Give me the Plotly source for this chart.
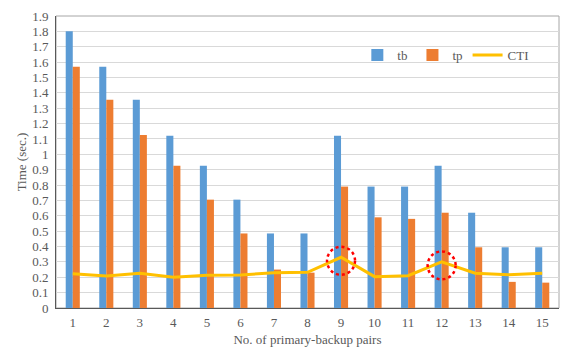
import plotly.graph_objects as go

pairs = list(range(1, 16))
tb = [1.80, 1.57, 1.355, 1.12, 0.925, 0.705, 0.485, 0.485, 1.12, 0.79, 0.79, 0.925, 0.62, 0.395, 0.395]
tp = [1.57, 1.355, 1.125, 0.925, 0.705, 0.485, 0.25, 0.23, 0.79, 0.59, 0.58, 0.62, 0.395, 0.17, 0.165]
cti = [0.223, 0.208, 0.226, 0.200, 0.213, 0.215, 0.230, 0.232, 0.330, 0.204, 0.210, 0.300, 0.226, 0.217, 0.226]
highlight_pairs = [9, 12]

font_family = "Liberation Serif"
txt_col = "#595959"

fig = go.Figure()
fig.add_trace(go.Bar(x=pairs, y=tb, name="tb", marker=dict(color="#5B9BD5", line=dict(width=0))))
fig.add_trace(go.Bar(x=pairs, y=tp, name="tp", marker=dict(color="#ED7D31", line=dict(width=0))))
fig.add_trace(go.Scatter(x=pairs, y=cti, name="CTI", mode="lines",
                         line=dict(color="#FFC000", width=3)))

shapes = [dict(type="rect", xref="paper", yref="paper", x0=0, x1=1, y0=0, y1=1,
               line=dict(color="#A6A6A6", width=1), layer="below")]
for p in highlight_pairs:
    shapes.append(dict(type="circle", xref="x", yref="y",
                       xsizemode="pixel", ysizemode="pixel",
                       xanchor=p, yanchor=cti[p - 1],
                       x0=-14, x1=14, y0=-17.5, y1=10.5,
                       line=dict(color="#FF0000", width=2.5, dash="dot")))

fig.update_layout(
    width=570, height=359,
    margin=dict(l=56, r=11, t=16, b=51),
    paper_bgcolor="white", plot_bgcolor="white",
    barmode="group", bargap=0.58, bargroupgap=0,
    font=dict(family=font_family, size=13, color=txt_col),
    showlegend=True,
    legend=dict(orientation="h", x=0.775, y=0.866, xanchor="center", yanchor="middle",
                bgcolor="rgba(0,0,0,0)", font=dict(family=font_family, size=13, color=txt_col),
                itemwidth=30, tracegroupgap=0),
    shapes=shapes,
)
fig.update_xaxes(
    tickmode="array", tickvals=pairs, ticktext=[str(p) for p in pairs],
    range=[0.5, 15.5], showgrid=False, showline=True, linecolor="#595959", linewidth=1,
    ticks="", ticklen=0, ticklabelstandoff=2, tickfont=dict(family=font_family, size=13, color=txt_col),
    automargin=False,
    title=dict(text="No. of primary-backup pairs", standoff=6,
               font=dict(family=font_family, size=13, color=txt_col)),
)
fig.update_yaxes(
    range=[0, 1.9], dtick=0.1, tick0=0, showgrid=True, gridcolor="#D9D9D9", gridwidth=1,
    showline=True, linecolor="#595959", linewidth=1, zeroline=False,
    ticks="", ticklabelstandoff=4, tickfont=dict(family=font_family, size=13, color=txt_col),
    automargin=False,
    title=dict(text="Time (sec.)", standoff=2,
               font=dict(family=font_family, size=13, color=txt_col)),
)

fig.write_html("out.html", config={"displayModeBar": False},
               post_script="document.body.style.margin='0';document.body.style.padding='0';")
